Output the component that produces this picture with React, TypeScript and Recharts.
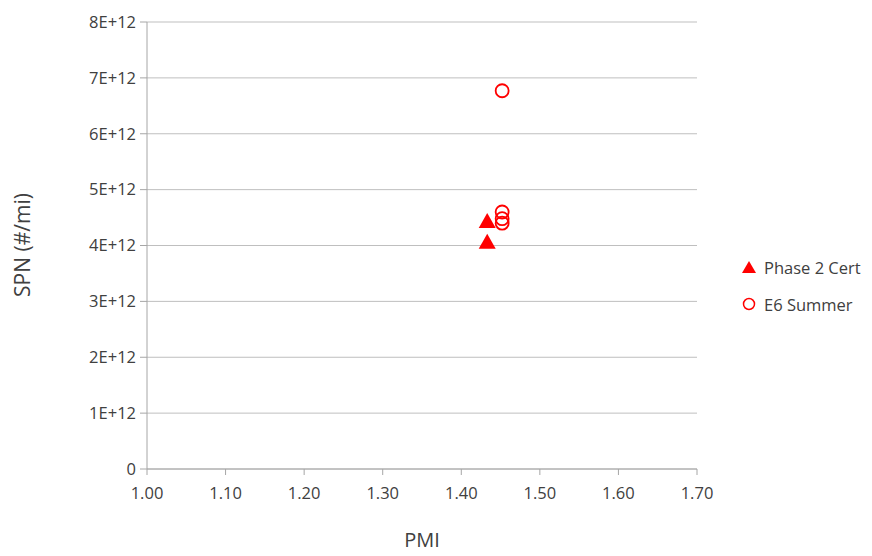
import React from 'react';
import {
  ScatterChart,
  Scatter,
  XAxis,
  YAxis,
  CartesianGrid,
  Label,
} from 'recharts';

// PMI vs SPN, two test groups
const phase2Pmi = [1.433, 1.433];
const phase2Spn = [4.42e12, 4.05e12];
const e6Pmi = [1.452, 1.452, 1.452, 1.452];
const e6Spn = [6.77e12, 4.6e12, 4.48e12, 4.4e12];

const xTicks = [1.0, 1.1, 1.2, 1.3, 1.4, 1.5, 1.6, 1.7];
const yTicks = [0, 1e12, 2e12, 3e12, 4e12, 5e12, 6e12, 7e12, 8e12];

const RED = '#ff0000';
const FONT = '"Open Sans", "Liberation Sans", sans-serif';
const TEXT = '#404040';

const phase2Data = phase2Pmi.map((x, i) => ({ x, y: phase2Spn[i] }));
const e6Data = e6Pmi.map((x, i) => ({ x, y: e6Spn[i] }));

const formatY = (v: number) => (v === 0 ? '0' : `${Math.round(v / 1e12)}E+12`);

const Triangle = (props: any) => {
  const { cx, cy } = props;
  return (
    <polygon
      points={`${cx},${cy - 9} ${cx - 8.5},${cy + 6} ${cx + 8.5},${cy + 6}`}
      fill={RED}
    />
  );
};

const Ring = (props: any) => {
  const { cx, cy } = props;
  return <circle cx={cx} cy={cy} r={6.5} fill="none" stroke={RED} strokeWidth={1.8} />;
};

const LegendBox = () => (
  <div
    style={{
      position: 'absolute',
      left: 742,
      top: 256,
      fontFamily: FONT,
      fontSize: 16.5,
      color: TEXT,
    }}
  >
    <div style={{ display: 'flex', alignItems: 'center', height: 22, marginBottom: 15 }}>
      <svg width={16} height={14} style={{ marginRight: 6 }}>
        <polygon points="7,1 0,13 14,13" fill={RED} />
      </svg>
      <span>Phase 2 Cert</span>
    </div>
    <div style={{ display: 'flex', alignItems: 'center', height: 22 }}>
      <svg width={16} height={14} style={{ marginRight: 6 }}>
        <circle cx={7} cy={7} r={5.5} fill="none" stroke={RED} strokeWidth={1.5} />
      </svg>
      <span>E6 Summer</span>
    </div>
  </div>
);

export default function App() {
  return (
    <div style={{ position: 'absolute', left: 0, top: 0, width: 872, height: 556, background: '#fff' }}>
      <ScatterChart
        width={872}
        height={556}
        margin={{ top: 22, right: 175, bottom: 57, left: 0 }}
      >
        <CartesianGrid horizontal vertical={false} stroke="#bfbfbf" strokeWidth={1} />
        <XAxis
          type="number"
          dataKey="x"
          domain={[1.0, 1.7]}
          ticks={xTicks}
          tickFormatter={(v: number) => v.toFixed(2)}
          stroke="#a6a6a6"
          tickSize={6}
          tick={{ fill: TEXT, fontSize: 16.5, fontFamily: FONT }}
          tickMargin={12}
          height={30}
        >
          <Label
            content={() => (
              <text x={422} y={547} textAnchor="middle" fill={TEXT} fontSize={20} fontFamily={FONT}>
                PMI
              </text>
            )}
          />
        </XAxis>
        <YAxis
          type="number"
          dataKey="y"
          domain={[0, 8e12]}
          ticks={yTicks}
          tickFormatter={formatY}
          stroke="#a6a6a6"
          tickSize={7}
          tickMargin={4}
          tick={{ fill: TEXT, fontSize: 16.5, fontFamily: FONT }}
          width={147}
        >
          <Label
            content={() => (
              <text
                x={30}
                y={245}
                transform="rotate(-90 30 245)"
                textAnchor="middle"
                fill={TEXT}
                fontSize={21}
                fontFamily={FONT}
              >
                SPN (#/mi)
              </text>
            )}
          />
        </YAxis>
        <Scatter
          name="Phase 2 Cert"
          data={phase2Data}
          fill={RED}
          shape={Triangle}
          isAnimationActive={false}
        />
        <Scatter
          name="E6 Summer"
          data={e6Data}
          fill="none"
          stroke={RED}
          shape={Ring}
          isAnimationActive={false}
        />
      </ScatterChart>
      <LegendBox />
    </div>
  );
}
